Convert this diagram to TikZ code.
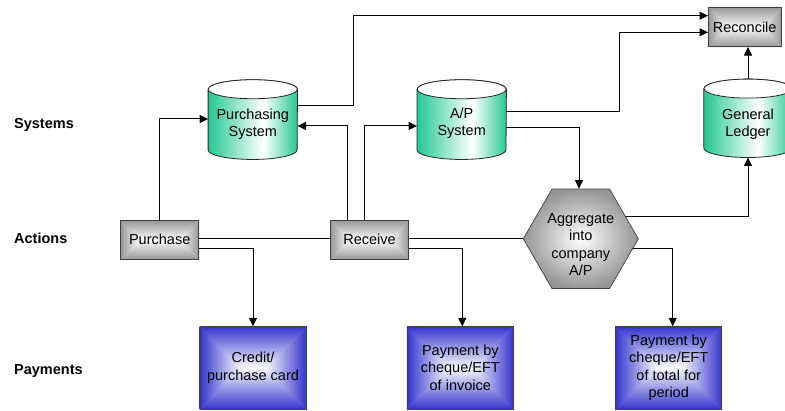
\documentclass[tikz,border=0pt]{standalone}
\usepackage{fontspec}
\setmainfont{Liberation Sans}
\usetikzlibrary{arrows.meta,shapes.geometric,calc}
\pgfdeclarelayer{background}
\pgfsetlayers{background,main}
\definecolor{cylg}{RGB}{36,200,148}
\definecolor{payb}{RGB}{51,51,204}
\definecolor{payc}{RGB}{250,250,255}
\definecolor{actg}{RGB}{150,150,150}
\definecolor{actc}{RGB}{252,252,252}
\pgfdeclarehorizontalshading{cylshade}{100bp}{color(0bp)=(cylg); color(25bp)=(cylg); color(56bp)=(white); color(75bp)=(cylg); color(100bp)=(cylg)}
\newcommand\drawcyl[2]{%
  \shadedraw[shading=cylshade, line width=.8pt, draw=black!85]
    ([yshift=-9.5pt]#1.north west) -- ([yshift=9.5pt]#1.south west)
    arc[start angle=180, end angle=360, x radius=#2, y radius=9.5pt]
    -- ([yshift=-9.5pt]#1.north east)
    arc[start angle=0, end angle=180, x radius=#2, y radius=9.5pt] -- cycle;
  \draw[fill=white, line width=.8pt, draw=black!85] ([yshift=-9.5pt]#1.north) ellipse[x radius=#2, y radius=9.5pt];
}
\newcommand\pyrbox[4]{%
  \fill[#3!45!#2] (#1.north west) rectangle (#1.south east);
  \shade[top color=#2, bottom color=#3] (#1.north west) -- (#1.north east) -- ([xshift=-#4]#1.east) -- ([xshift=#4]#1.west) -- cycle;
  \shade[bottom color=#2, top color=#3] (#1.south west) -- (#1.south east) -- ([xshift=-#4]#1.east) -- ([xshift=#4]#1.west) -- cycle;
  \shade[left color=#2, right color=#3] (#1.north west) -- ([xshift=#4]#1.west) -- (#1.south west) -- cycle;
  \shade[right color=#2, left color=#3] (#1.north east) -- ([xshift=-#4]#1.east) -- (#1.south east) -- cycle;
}
\begin{document}
\begin{tikzpicture}[x=1pt,y=1pt,
  font=\fontsize{14.5}{17.4}\selectfont,
  conn/.style={line width=1pt, draw=black},
  arr/.style={conn, -{Triangle[length=8.5pt,width=8pt]}},
  cylbox/.style={minimum width=89pt, minimum height=79.3pt, inner sep=0pt},
  cyltext/.style={align=center, inner sep=0pt},
  actbox/.style={minimum width=78pt, minimum height=38.3pt, inner sep=0pt, draw=black!75, line width=.7pt},
  paybox/.style={minimum width=106pt, minimum height=82.3pt, inner sep=0pt, align=center, draw=black!75, line width=.7pt},
  lanelabel/.style={font=\fontsize{14.5}{17.4}\selectfont\bfseries, anchor=west, inner sep=0pt},
  hexshape/.style={regular polygon, regular polygon sides=6, minimum size=115pt, inner sep=0pt, draw=black!75, line width=.7pt, inner color=white, outer color=actg}
]
\useasboundingbox (0,0) rectangle (785,410);

% lane labels
\node[lanelabel] (lsys) at (14,285) {Systems};
\node[lanelabel] (lact) at (14,171.7) {Actions};
\node[lanelabel] (lpay) at (14,39.3) {Payments};

% cylinders
\node[cylbox] (ps) at (252.8,290.4) {};
\node[cylbox] (ap) at (461.7,290.4) {};
\node[cylbox, minimum width=88pt, minimum height=78pt] (gl) at (748,291.7) {};
\drawcyl{ps}{44.5pt}
\drawcyl{ap}{44.5pt}
\drawcyl{gl}{44pt}
\node[cyltext] (pst) at (252.8,286) {Purchasing\\System};
\node[cyltext] (apt) at (461.7,287) {A/P\\System};
\node[cyltext] (glt) at (748,286) {General\\Ledger};

% boxes
\node[actbox, minimum width=72.7pt, minimum height=39.4pt] (rec) at (744.7,383) {Reconcile};
\node[actbox] (pur) at (159.7,170.2) {Purchase};
\node[actbox] (rcv) at (369.5,170.2) {Receive};
\node[hexshape] (hex) at (580.8,171.2) {};
\node[cyltext] (hext) at (580.8,165.5) {Aggregate\\into\\company\\A/P};
\node[paybox] (pay1) at (253,42.2) {Credit/\\purchase card};
\node[paybox] (pay2) at (460.3,42.2) {Payment by\\cheque/EFT\\of invoice};
\node[paybox] (pay3) at (668.7,42.2) {Payment by\\cheque/EFT\\of total for\\period};

\begin{pgfonlayer}{background}
  \pyrbox{pur}{actg}{actc}{19.15pt}
  \pyrbox{rcv}{actg}{actc}{19.15pt}
  \pyrbox{rec}{actg}{actc}{19.7pt}
  \pyrbox{pay1}{payb}{payc}{41.15pt}
  \pyrbox{pay2}{payb}{payc}{41.15pt}
  \pyrbox{pay3}{payb}{payc}{41.15pt}
\end{pgfonlayer}

% connectors
\draw[arr] (pur.north) |- (ps.west |- 0,291);
\draw[conn] (pur.east |- 0,171.7) -- (rcv.west |- 0,171.7);
\draw[conn] (rcv.east |- hex.west) -- (hex.west);
\draw[arr] (pur.east |- 0,161.3) -| (pay1.north);
\draw[arr] (347.5,0 |- rcv.north) |- (ps.east |- 0,284);
\draw[arr] (364.3,0 |- rcv.north) |- (ap.west |- 0,284);
\draw[arr] (rcv.east |- 0,161.7) -| (462.3,0 |- pay2.north);
\draw[arr] (hex.349.6) -| (672.7,0 |- pay3.north);
\draw[arr] (hex.26.4) -| (gl.south);
\draw[arr] (ap.east |- 0,282.7) -| (579,0 |- hex.north);
\draw[arr] (ap.east |- 0,298.3) -| (619.3,377.7) -- (rec.west |- 0,377.7);
\draw[arr] (ps.east |- 0,304.3) -| (353.3,394.3) -- (rec.west |- 0,394.3);
\draw[arr] (gl.north) -- (gl.north |- rec.south);
\end{tikzpicture}
\end{document}
